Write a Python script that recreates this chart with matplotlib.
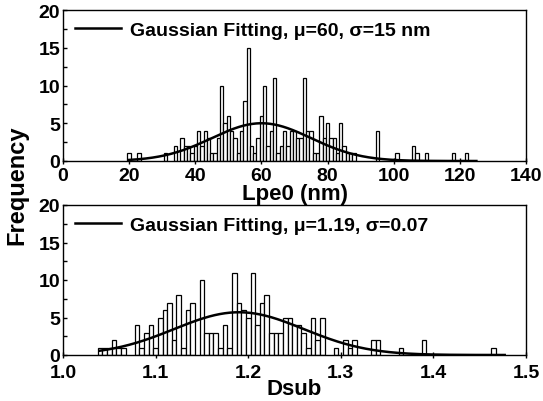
import numpy as np
import matplotlib
matplotlib.use("Agg")
import matplotlib.pyplot as plt
from matplotlib.ticker import MultipleLocator

plt.rcParams['font.family'] = ['Liberation Sans', 'DejaVu Sans']
plt.rcParams['font.weight'] = 'bold'

# --- Top histogram: Lpe0 (nm), 1 nm bins ---
lpe_centers = [20, 23, 31, 34, 36, 37, 38, 39, 40, 41, 42, 43, 44, 45, 46, 47, 48, 49, 50,
               51, 52, 53, 54, 55, 56, 57, 58, 59, 60, 61, 62, 63, 64, 65, 66, 67, 68, 69,
               70, 71, 72, 73, 74, 75, 76, 77, 78, 79, 80, 81, 82, 83, 84, 85, 86, 87, 88,
               95, 101, 106, 107, 110, 118, 122]
lpe_counts = [1, 1, 1, 2, 3, 2, 2, 1, 2, 4, 2, 4, 3, 1, 1, 3, 10, 5, 6,
              4, 3, 1, 4, 8, 15, 2, 1, 3, 6, 10, 2, 4, 11, 1, 2, 4, 2, 4,
              4, 3, 3, 11, 4, 4, 1, 1, 6, 3, 5, 3, 3, 1, 5, 2, 1, 1, 1,
              4, 1, 2, 1, 1, 1, 1]
lpe_bin = 1.0
lpe_mu, lpe_sigma, lpe_amp = 60, 15, 5.0
lpe_fit_range = (20, 125)

# --- Bottom histogram: Dsub, 0.005 bins ---
dsub_centers = [1.040, 1.045, 1.050, 1.055, 1.060, 1.065, 1.080, 1.085, 1.090, 1.095,
                1.100, 1.105, 1.110, 1.115, 1.120, 1.125, 1.130, 1.135, 1.140, 1.150,
                1.155, 1.160, 1.165, 1.170, 1.175, 1.180, 1.185, 1.190, 1.195, 1.200,
                1.205, 1.210, 1.215, 1.220, 1.225, 1.230, 1.235, 1.240, 1.245, 1.250,
                1.255, 1.260, 1.265, 1.270, 1.275, 1.280, 1.295, 1.305, 1.310, 1.315,
                1.335, 1.340, 1.365, 1.390, 1.465]
dsub_counts = [1, 1, 1, 2, 1, 1, 4, 1, 3, 4,
               1, 5, 6, 7, 2, 8, 1, 6, 7, 10,
               3, 3, 3, 1, 4, 1, 11, 7, 6, 5,
               11, 4, 7, 8, 3, 3, 3, 5, 5, 4,
               4, 3, 1, 5, 2, 5, 1, 2, 1, 2,
               2, 2, 1, 2, 1]
dsub_bin = 0.005
dsub_mu, dsub_sigma, dsub_amp = 1.19, 0.07, 5.7
dsub_fit_range = (1.04, 1.477)

fig = plt.figure(figsize=(5.43, 4.02), dpi=100)
ax1 = fig.add_axes([63/543, 1-162/402, 463/543, 151/402])
ax2 = fig.add_axes([63/543, 1-356/402, 463/543, 150/402])

def draw(ax, centers, counts, width, mu, sigma, amp, rng, label, xpad):
    ax.bar(centers, counts, width=width, facecolor='white', edgecolor='black',
           linewidth=0.9, align='center', zorder=2)
    x = np.linspace(rng[0], rng[1], 400)
    y = amp * np.exp(-0.5 * ((x - mu) / sigma) ** 2)
    ax.plot(x, y, color='black', lw=1.8, zorder=3, label=label)
    ax.set_ylim(0, 20)
    ax.yaxis.set_major_locator(MultipleLocator(5))
    ax.yaxis.set_minor_locator(MultipleLocator(2.5))
    ax.tick_params(axis='y', which='both', direction='in', length=3, width=1,
                   labelsize=14, pad=2)
    ax.tick_params(axis='x', which='major', direction='inout', length=5, width=1,
                   labelsize=14, pad=xpad)
    for s in ax.spines.values():
        s.set_linewidth(1.0)
    for lab in ax.get_xticklabels() + ax.get_yticklabels():
        lab.set_fontweight('bold')
    leg = ax.legend(loc='upper left', frameon=False, fontsize=14, handlelength=2.4,
                    handletextpad=0.45, borderaxespad=0.2, bbox_to_anchor=(0.0, 1.0))
    for t in leg.get_texts():
        t.set_fontweight('bold')

draw(ax1, lpe_centers, lpe_counts, lpe_bin, lpe_mu, lpe_sigma, lpe_amp, lpe_fit_range,
     'Gaussian Fitting, \u03bc=60, \u03c3=15 nm', 2)
ax1.set_xlim(0, 140)
ax1.set_xticks([0, 20, 40, 60, 80, 100, 120, 140])
ax1.set_xlabel('Lpe0 (nm)', fontsize=16, fontweight='bold', labelpad=-1)

draw(ax2, dsub_centers, dsub_counts, dsub_bin, dsub_mu, dsub_sigma, dsub_amp, dsub_fit_range,
     'Gaussian Fitting, \u03bc=1.19, \u03c3=0.07', 4)
ax2.set_xlim(1.0, 1.5)
ax2.set_xticks([1.0, 1.1, 1.2, 1.3, 1.4, 1.5])
ax2.set_xticklabels(['1.0', '1.1', '1.2', '1.3', '1.4', '1.5'])
for lab in ax2.get_xticklabels():
    lab.set_fontweight('bold')
ax2.set_xlabel('Dsub', fontsize=16, fontweight='bold', labelpad=-2)

fig.text(17/543, 1-185/402, 'Frequency', rotation=90, fontsize=17, fontweight='bold',
         ha='center', va='center')

fig.savefig('out.png', dpi=100)
